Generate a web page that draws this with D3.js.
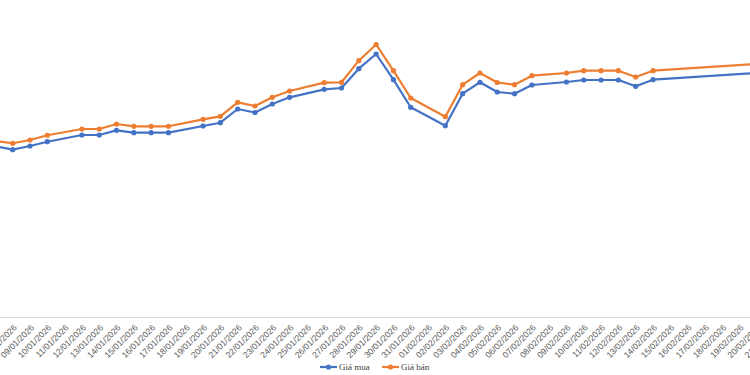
<!DOCTYPE html>
<html>
<head>
<meta charset="utf-8">
<script src="https://cdn.jsdelivr.net/npm/d3@7"></script>
<style>
  html, body { margin: 0; padding: 0; background: #ffffff; }
  svg { display: block; }
</style>
</head>
<body>
<svg id="chart" width="750" height="375"></svg>
<script>
// ---- data (thousand VND) ----
const dates = ["07/01/2026","08/01/2026","09/01/2026","10/01/2026","12/01/2026","13/01/2026","14/01/2026",
  "15/01/2026","16/01/2026","17/01/2026","19/01/2026","20/01/2026","21/01/2026","22/01/2026","23/01/2026",
  "24/01/2026","26/01/2026","27/01/2026","28/01/2026","29/01/2026","30/01/2026","31/01/2026","02/02/2026",
  "03/02/2026","04/02/2026","05/02/2026","06/02/2026","07/02/2026","09/02/2026","10/02/2026","11/02/2026",
  "12/02/2026","13/02/2026","14/02/2026","21/02/2026"];
const buyPrices = [2964,2905,2969,3043,3160,3160,3241,
  3200,3200,3200,3316,3373,3611,3550,3698,
  3814,3953,3976,4311,4566,4120,3641,3321,
  3877,4075,3906,3877,4028,4080,4115,4115,
  4115,4005,4120,4259];
const sellPrices = [3054,3016,3073,3155,3264,3264,3351,
  3311,3311,3311,3432,3484,3727,3663,3814,
  3924,4068,4075,4450,4731,4276,3802,3477,
  4033,4236,4071,4033,4189,4236,4276,4276,
  4276,4167,4276,4415];
const seriesNames = ["Giá mua", "Giá bán"];
const axisStart = "07/01/2026";
const axisEnd = "21/02/2026";

const parse = d3.utcParse("%d/%m/%Y");
const fmt = d3.utcFormat("%d/%m/%Y");

const rows = dates.map((d, i) => ({ date: parse(d), buy: buyPrices[i], sell: sellPrices[i] }));

const svg = d3.select("#chart");
const W = 750, H = 375;
const axisY = 317;

const x = d3.scaleUtc()
  .domain([parse("08/01/2026"), parse("14/02/2026")])
  .range([12.7, 653]);
const y = d3.scaleLinear().domain([0, 5000]).range([axisY, 29]);

const colors = ["#4472C4", "#ED7D31"];

// axis line
svg.append("line")
  .attr("x1", 0).attr("x2", W)
  .attr("y1", axisY + 0.5).attr("y2", axisY + 0.5)
  .attr("stroke", "#d9d9d9").attr("stroke-width", 1);

const days = d3.utcDay.range(parse(axisStart), d3.utcDay.offset(parse(axisEnd), 1));
const gx = svg.append("g")
  .attr("transform", `translate(0,${axisY})`)
  .call(d3.axisBottom(x).tickValues(days).tickSize(0).tickFormat(fmt));
gx.select(".domain").remove();
gx.selectAll("text")
  .attr("x", 0).attr("y", 0).attr("dy", "0.35em")
  .attr("transform", "translate(2,9) rotate(-45)")
  .attr("text-anchor", "end")
  .attr("fill", "#595959")
  .style("font-family", "'Liberation Sans', Arial, sans-serif")
  .style("font-size", "8.6px");

// lines
const keys = ["buy", "sell"];
keys.forEach((k, i) => {
  const line = d3.line().x(d => x(d.date)).y(d => y(d[k]));
  svg.append("path")
    .datum(rows)
    .attr("fill", "none")
    .attr("stroke", colors[i])
    .attr("stroke-width", 2.2)
    .attr("stroke-linejoin", "round")
    .attr("d", line);
  svg.append("g").selectAll("circle")
    .data(rows)
    .join("circle")
    .attr("cx", d => x(d.date))
    .attr("cy", d => y(d[k]))
    .attr("r", 2.6)
    .attr("fill", colors[i]);
});

// legend
const legendY = 367;
const legendX = [320, 382];
seriesNames.forEach((name, i) => {
  const g = svg.append("g").attr("transform", `translate(${legendX[i]},${legendY})`);
  g.append("line").attr("x1", 0).attr("x2", 17).attr("y1", 0).attr("y2", 0)
    .attr("stroke", colors[i]).attr("stroke-width", 2.2);
  g.append("circle").attr("cx", 8.5).attr("cy", 0).attr("r", 2.6).attr("fill", colors[i]);
  g.append("text").attr("x", 19).attr("y", 0).attr("dy", "0.35em")
    .attr("fill", "#404040")
    .style("font-family", "'Liberation Serif', 'Times New Roman', serif")
    .style("font-size", "9px")
    .text(name);
});
</script>
</body>
</html>
